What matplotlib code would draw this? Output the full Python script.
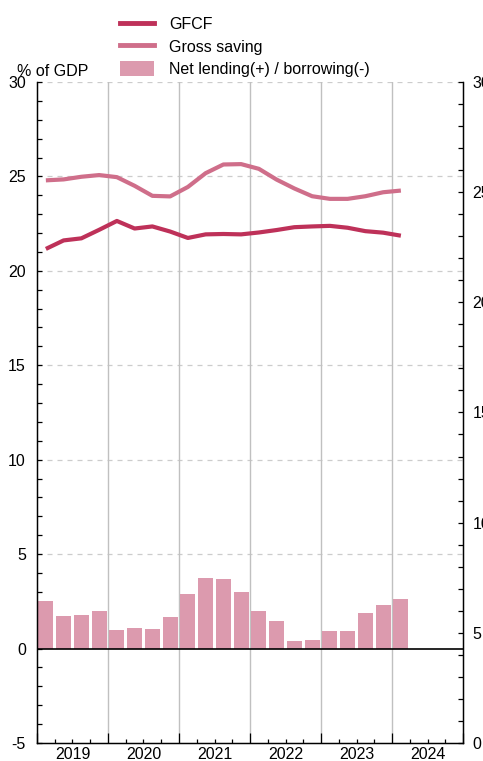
import matplotlib
matplotlib.use("Agg")
import matplotlib.pyplot as plt
from matplotlib.patches import Patch
from matplotlib.lines import Line2D
from matplotlib.ticker import MultipleLocator, FixedLocator, NullFormatter

plt.rcParams['font.family'] = ['Liberation Sans', 'DejaVu Sans']
plt.rcParams['axes.unicode_minus'] = False

years = ['2019', '2020', '2021', '2022', '2023', '2024']
# quarterly values, 2019Q1 .. 2024Q1
gfcf = [21.16, 21.61, 21.72, 22.17, 22.64, 22.24, 22.35, 22.08, 21.74, 21.93, 21.95,
        21.93, 22.03, 22.16, 22.31, 22.35, 22.38, 22.28, 22.10, 22.02, 21.86]
gross_saving = [24.79, 24.84, 24.98, 25.07, 24.96, 24.50, 23.97, 23.94, 24.44, 25.17, 25.63,
                25.65, 25.40, 24.83, 24.36, 23.95, 23.81, 23.81, 23.95, 24.16, 24.25]
net_lending = [2.51, 1.74, 1.75, 2.00, 1.00, 1.10, 1.02, 1.68, 2.88, 3.74, 3.68,
               3.00, 2.00, 1.44, 0.39, 0.44, 0.91, 0.93, 1.86, 2.30, 2.63]

c_gfcf = '#be3159'
c_saving = '#cf6e8a'
c_bar = '#dc9aae'
fs = 11.5

fig = plt.figure(figsize=(4.83, 7.61), dpi=100)
ax = fig.add_axes([0.0766, 0.0237, 0.882, 0.8686])

x = [i + 0.5 for i in range(len(gfcf))]
ax.bar(x, net_lending, width=0.85, color=c_bar, zorder=2)
ax.plot(x, gfcf, color=c_gfcf, lw=3, zorder=3, solid_capstyle='butt')
ax.plot(x, gross_saving, color=c_saving, lw=3, zorder=3, solid_capstyle='butt')
ax.axhline(0, color='black', lw=1.2, zorder=4)

ax.set_xlim(0, 4 * len(years))
ax.set_ylim(-5, 30)

# gridlines
for yv in range(5, 31, 5):
    ax.axhline(yv, color='#cccccc', lw=0.9, ls=(0, (4, 4)), zorder=1)
for k in range(1, len(years)):
    ax.axvline(4 * k, color='#c0c0c0', lw=1.0, zorder=1)

ax.spines['top'].set_visible(False)
for s in ['left', 'right', 'bottom']:
    ax.spines[s].set_linewidth(1.0)

ax.yaxis.set_major_locator(MultipleLocator(5))
ax.yaxis.set_minor_locator(MultipleLocator(1))
ax.tick_params(axis='y', which='both', direction='in', length=3.5, width=0.9,
               labelsize=fs, pad=8)
ax.xaxis.set_major_locator(FixedLocator(range(0, 4 * len(years) + 1, 4)))
ax.xaxis.set_minor_locator(MultipleLocator(1))
ax.xaxis.set_major_formatter(NullFormatter())
ax.tick_params(axis='x', which='major', direction='in', length=7, width=0.9)
ax.tick_params(axis='x', which='minor', direction='in', length=3, width=0.9)

for k, yr in enumerate(years):
    ax.text(4 * k + 2, -5.2, yr, ha='center', va='top', fontsize=fs)

ax2 = ax.twinx()
ax2.set_ylim(0, 30)
ax2.spines['top'].set_visible(False)
ax2.yaxis.set_major_locator(MultipleLocator(5))
ax2.yaxis.set_minor_locator(MultipleLocator(1))
ax2.tick_params(axis='y', which='both', direction='in', length=3.5, width=0.9,
                labelsize=fs, pad=7)

fig.text(17 / 483, 1 - 71 / 761, '% of GDP', ha='left', va='center', fontsize=fs)

handles = [Line2D([], [], color=c_gfcf, lw=3.5),
           Line2D([], [], color=c_saving, lw=3.5),
           Patch(facecolor=c_bar)]
labels = ['GFCF', 'Gross saving', 'Net lending(+) / borrowing(-)']
fig.legend(handles, labels, loc='upper left', bbox_to_anchor=(114 / 483, 1 - 10 / 761),
           frameon=False, fontsize=fs, handlelength=2.1, handleheight=1.1,
           handletextpad=0.95, labelspacing=0.38, borderaxespad=0, borderpad=0.4)

fig.savefig('out.png', dpi=100)
